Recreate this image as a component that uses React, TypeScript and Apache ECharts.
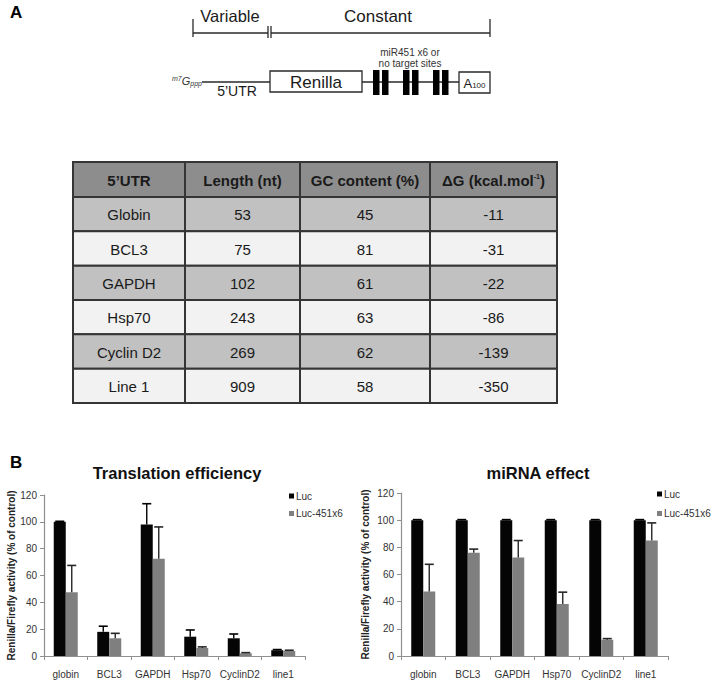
import React, { useEffect, useRef } from "react";
import * as echarts from "echarts";

// ---------- Data ----------
const categories = ["globin", "BCL3", "GAPDH", "Hsp70", "CyclinD2", "line1"];
const legendNames = ["Luc", "Luc-451x6"];
const chartTitles = ["Translation efficiency", "miRNA effect"];
const yAxisName = "Renilla/Firefly activity (% of control)";

// Translation efficiency
const teLuc = [100, 18, 98, 14.4, 13.2, 4.3];
const teLucSD = [0.4, 4.2, 15.5, 5, 3.2, 0.5];
const te451 = [47.5, 13.2, 72.5, 6, 2, 3.8];
const te451SD = [20, 3.7, 23.7, 0.8, 0.5, 0.5];

// miRNA effect
const meLuc = [100, 100, 100, 100, 100, 100];
const meLucSD = [0.4, 0.4, 0.4, 0.4, 0.4, 0.4];
const me451 = [47.5, 76, 72.5, 38.3, 12, 85];
const me451SD = [20, 2.7, 12.5, 8.7, 0.8, 13];

const yMin = 0;
const yMax = 120;
const yInterval = 20;

// Table
const tableHeaders = ["5\u2019UTR", "Length (nt)", "GC content (%)", "\u0394G (kcal.mol"];
const utrNames = ["Globin", "BCL3", "GAPDH", "Hsp70", "Cyclin D2", "Line 1"];
const utrLengths = [53, 75, 102, 243, 269, 909];
const gcContent = [45, 81, 61, 63, 62, 58];
const deltaG = [-11, -31, -22, -86, -139, -350];

// ---------- Styles ----------
const FF = "'Liberation Sans', Arial, Helvetica, sans-serif";
const BAR_W = 12;
const CAP_HALF = 4.5;
const BLACK = "#050505";
const GRAY = "#7f7f7f";
const AXIS = "#8f8f8f";
const INK = "#1a1a1a";

function errRender(offset: number, color: string) {
  return (params: any, api: any) => {
    const x = api.value(0);
    const v = api.value(1);
    const hi = api.value(2);
    const p0 = api.coord([x, v]);
    const p1 = api.coord([x, hi]);
    const cx = p0[0] + offset;
    return {
      type: "group",
      children: [
        { type: "line", shape: { x1: cx, y1: p0[1], x2: cx, y2: p1[1] }, style: { stroke: color, lineWidth: 1.4 } },
        { type: "line", shape: { x1: cx - CAP_HALF, y1: p1[1], x2: cx + CAP_HALF, y2: p1[1] }, style: { stroke: color, lineWidth: 1.6 } },
      ],
    };
  };
}

function buildDiagram(): any[] {
  const st = { stroke: "#2a2a2a", lineWidth: 1.3 };
  const els: any[] = [];
  // bracket
  els.push({ type: "line", shape: { x1: 193, y1: 33, x2: 268, y2: 33 }, style: st });
  els.push({ type: "line", shape: { x1: 271, y1: 33, x2: 490, y2: 33 }, style: st });
  els.push({ type: "line", shape: { x1: 193, y1: 19, x2: 193, y2: 37 }, style: st });
  els.push({ type: "line", shape: { x1: 268, y1: 26, x2: 268, y2: 38 }, style: st });
  els.push({ type: "line", shape: { x1: 271, y1: 26, x2: 271, y2: 38 }, style: st });
  els.push({ type: "line", shape: { x1: 490, y1: 19, x2: 490, y2: 37 }, style: st });
  els.push({ type: "text", x: 230, y: 16, style: { text: "Variable", font: `16.5px ${FF}`, fill: INK, align: "center", verticalAlign: "middle" } });
  els.push({ type: "text", x: 378, y: 16, style: { text: "Constant", font: `17px ${FF}`, fill: INK, align: "center", verticalAlign: "middle" } });
  // mRNA line
  els.push({ type: "line", shape: { x1: 202, y1: 82, x2: 270, y2: 82 }, style: st });
  els.push({ type: "line", shape: { x1: 362, y1: 82, x2: 459, y2: 82 }, style: st });
  els.push({ type: "rect", shape: { x: 270, y: 71, width: 92, height: 21 }, style: { fill: "#fff", stroke: "#2a2a2a", lineWidth: 1.3 } });
  els.push({ type: "text", x: 316, y: 82, style: { text: "Renilla", font: `17px ${FF}`, fill: INK, align: "center", verticalAlign: "middle" } });
  els.push({ type: "rect", shape: { x: 459, y: 72, width: 31, height: 21 }, style: { fill: "#fff", stroke: "#2a2a2a", lineWidth: 1.3 } });
  els.push({
    type: "text", x: 474.5, y: 83,
    style: {
      text: "{a|A}{b|100}", align: "center", verticalAlign: "middle", fill: INK,
      rich: { a: { font: `13px ${FF}`, fill: INK }, b: { font: `8px ${FF}`, fill: INK, verticalAlign: "bottom", padding: [5, 0, 0, 0] } },
    },
  });
  [373, 382, 403, 412, 433, 442].forEach((bx) => {
    els.push({ type: "rect", shape: { x: bx, y: 70, width: 6.5, height: 25 }, style: { fill: "#000" } });
  });
  els.push({ type: "text", x: 410, y: 52, style: { text: "miR451 x6 or", font: `10px ${FF}`, fill: "#333", align: "center", verticalAlign: "middle" } });
  els.push({ type: "text", x: 410, y: 63, style: { text: "no target sites", font: `10px ${FF}`, fill: "#333", align: "center", verticalAlign: "middle" } });
  els.push({ type: "text", x: 237, y: 91, style: { text: "5\u2019UTR", font: `14px ${FF}`, fill: INK, align: "center", verticalAlign: "middle" } });
  els.push({
    type: "text", x: 202, y: 81,
    style: {
      text: "{s|m7}{g|G}{p|ppp}", align: "right", verticalAlign: "middle", fill: "#333",
      rich: {
        s: { font: `italic 7px ${FF}`, fill: "#333", padding: [0, 0, 6, 0] },
        g: { font: `italic 11px ${FF}`, fill: "#333" },
        p: { font: `italic 7px ${FF}`, fill: "#333", padding: [5, 0, 0, 0] },
      },
    },
  });
  els.push({ type: "text", x: 10, y: 12, style: { text: "A", font: `bold 17px ${FF}`, fill: "#000", align: "left", verticalAlign: "middle" } });
  els.push({ type: "text", x: 10, y: 462, style: { text: "B", font: `bold 17px ${FF}`, fill: "#000", align: "left", verticalAlign: "middle" } });
  return els;
}

function buildTable(): any[] {
  const cols = [73, 185, 300, 430, 557];
  const top = 162;
  const headerH = 35;
  const rowH = (403 - 197) / utrNames.length;
  const els: any[] = [];
  const border = "#353535";
  // header
  for (let c = 0; c < 4; c++) {
    els.push({ type: "rect", shape: { x: cols[c], y: top, width: cols[c + 1] - cols[c], height: headerH }, style: { fill: "#8d8d8d", stroke: border, lineWidth: 2 } });
    const cx = (cols[c] + cols[c + 1]) / 2;
    if (c < 3) {
      els.push({ type: "text", x: cx, y: top + headerH / 2 + 0.5, z: 10, style: { text: tableHeaders[c], font: `bold 15px ${FF}`, fill: INK, align: "center", verticalAlign: "middle" } });
    } else {
      els.push({
        type: "text", x: cx, y: top + headerH / 2 + 0.5, z: 10,
        style: {
          text: `{a|${tableHeaders[c]}}{s|-1}{a|)}`, align: "center", verticalAlign: "middle", fill: INK,
          rich: { a: { font: `bold 15px ${FF}`, fill: INK }, s: { font: `bold 7px ${FF}`, fill: INK, padding: [0, 0, 8, 0] } },
        },
      });
    }
  }
  const rows = utrNames.map((n, i) => [n, String(utrLengths[i]), String(gcContent[i]), String(deltaG[i])]);
  rows.forEach((row, r) => {
    const y = top + headerH + r * rowH;
    const fill = r % 2 === 0 ? "#c1c1c1" : "#f2f2f2";
    for (let c = 0; c < 4; c++) {
      els.push({ type: "rect", shape: { x: cols[c], y, width: cols[c + 1] - cols[c], height: rowH }, style: { fill, stroke: border, lineWidth: 2 } });
      els.push({ type: "text", x: (cols[c] + cols[c + 1]) / 2, y: y + rowH / 2 + 0.5, z: 10, style: { text: row[c], font: `15px ${FF}`, fill: INK, align: "center", verticalAlign: "middle" } });
    }
  });
  return els;
}

export default function App() {
  const ref = useRef<HTMLDivElement>(null);
  useEffect(() => {
    if (!ref.current) return;
    const chart = echarts.init(ref.current, undefined, { renderer: "svg" });
    const grids = [
      { left: 44, top: 495, width: 261, height: 161 },
      { left: 401, top: 493, width: 267, height: 163 },
    ];
    const datasets = [
      { luc: teLuc, lucSD: teLucSD, m: te451, mSD: te451SD },
      { luc: meLuc, lucSD: meLucSD, m: me451, mSD: me451SD },
    ];
    const series: any[] = [];
    datasets.forEach((d, gi) => {
      series.push({
        name: legendNames[0], type: "bar", xAxisIndex: gi, yAxisIndex: gi, data: d.luc,
        barWidth: BAR_W, barGap: "0%", itemStyle: { color: BLACK }, z: 2,
      });
      series.push({
        name: legendNames[1], type: "bar", xAxisIndex: gi, yAxisIndex: gi, data: d.m,
        barWidth: BAR_W, barGap: "0%", itemStyle: { color: GRAY }, z: 2,
      });
      series.push({
        name: "err-luc-" + gi, type: "custom", xAxisIndex: gi, yAxisIndex: gi, z: 3,
        renderItem: errRender(-BAR_W / 2, "#000"),
        encode: { x: 0, y: [1, 2] },
        data: categories.map((_, k) => [k, d.luc[k], d.luc[k] + d.lucSD[k]]),
      });
      series.push({
        name: "err-451-" + gi, type: "custom", xAxisIndex: gi, yAxisIndex: gi, z: 3,
        renderItem: errRender(BAR_W / 2, "#262626"),
        encode: { x: 0, y: [1, 2] },
        data: categories.map((_, k) => [k, d.m[k], d.m[k] + d.mSD[k]]),
      });
    });

    const option: any = {
      animation: false,
      backgroundColor: "#fff",
      textStyle: { fontFamily: FF },
      title: [
        { text: chartTitles[0], left: 177, top: 464, textAlign: "center", padding: 0, textStyle: { fontSize: 16.5, fontWeight: "bold", color: "#111", fontFamily: FF } },
        { text: chartTitles[1], left: 538, top: 464, textAlign: "center", padding: 0, textStyle: { fontSize: 16.5, fontWeight: "bold", color: "#111", fontFamily: FF } },
      ],
      legend: [
        { data: legendNames, left: 289, top: 490, orient: "vertical", padding: 0, itemGap: 5.5, itemWidth: 5, itemHeight: 5, icon: "rect", selectedMode: false, textStyle: { fontSize: 10, color: "#333", lineHeight: 12, padding: [0, 0, 0, -3] } },
        { data: legendNames, left: 657, top: 488, orient: "vertical", padding: 0, itemGap: 7.5, itemWidth: 5, itemHeight: 5, icon: "rect", selectedMode: false, textStyle: { fontSize: 10, color: "#333", lineHeight: 12, padding: [0, 0, 0, -3] } },
      ],
      grid: grids,
      xAxis: grids.map((_, gi) => ({
        type: "category", gridIndex: gi, data: categories,
        axisLine: { show: true, lineStyle: { color: AXIS, width: 1.2 } },
        axisTick: { show: true, length: 4, lineStyle: { color: AXIS } },
        axisLabel: { fontSize: 10, color: "#333", margin: 13, interval: 0 },
        splitLine: { show: false },
      })),
      yAxis: grids.map((_, gi) => ({
        type: "value", gridIndex: gi, min: yMin, max: yMax, interval: yInterval,
        name: yAxisName, nameLocation: "middle", nameGap: gi === 0 ? 26 : 31,
        nameTextStyle: { fontSize: 10, fontWeight: "bold", color: "#222" },
        axisLine: { show: true, lineStyle: { color: AXIS, width: 1.2 } },
        axisTick: { show: true, length: 4, lineStyle: { color: AXIS } },
        axisLabel: { fontSize: 10, color: "#333", margin: 7 },
        splitLine: { show: false },
      })),
      graphic: [...buildDiagram(), ...buildTable()],
      series,
    };
    chart.setOption(option);
    return () => chart.dispose();
  }, []);
  return <div ref={ref} style={{ position: "absolute", left: 0, top: 0, width: 725, height: 692 }} />;
}
